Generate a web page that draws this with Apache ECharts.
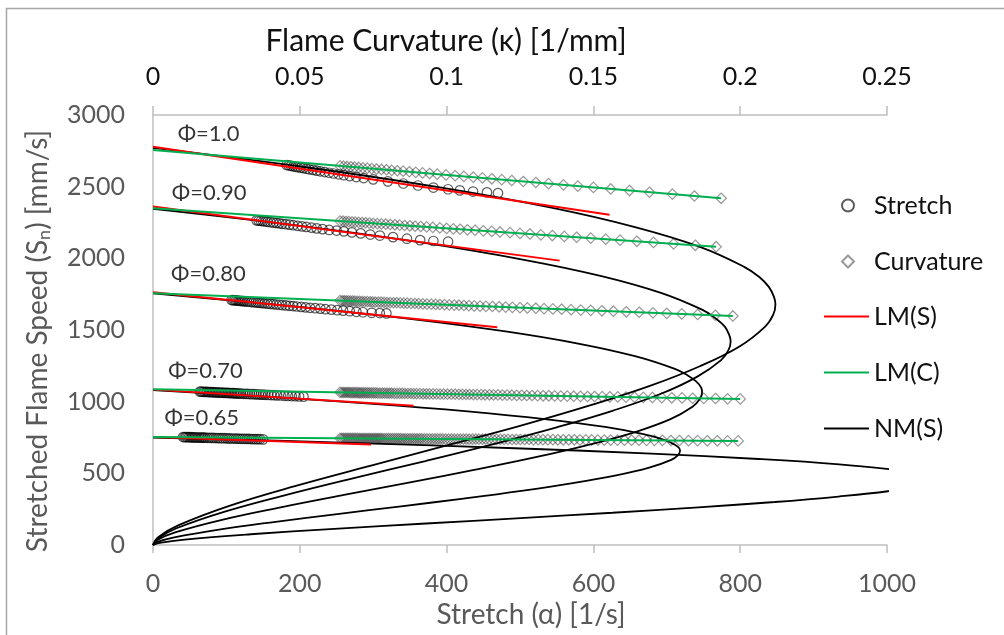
<!DOCTYPE html>
<html>
<head>
<meta charset="utf-8">
<title>Stretched flame speed vs stretch and curvature</title>
<script src="https://cdn.jsdelivr.net/npm/echarts@6/dist/echarts.min.js"></script>
<style>
  html, body { margin: 0; padding: 0; background: #fff; }
  #chart { width: 1004px; height: 635px; }
</style>
</head>
<body>
<div id="chart"></div>
<script>
// axis ranges [min, max, interval]
const stretchAxis = [0, 1000, 200]
const curvatureAxis = [0, 0.25, 0.05]
const speedAxis = [0, 3000, 500]

const phiLabels = ['Φ=1.0', 'Φ=0.90', 'Φ=0.80', 'Φ=0.70', 'Φ=0.65']
// where each label starts, in [stretch, speed]
const labelAnchors = [[33, 2868], [25, 2456], [24, 1891], [20, 1217], [15, 884]]

// measured stretch data (circles), [alpha 1/s, Sn mm/s]
const stretch10 = [[182,2651],[185,2648],[188,2645],[191,2642],[194,2639],[197,2636],[201,2633],[205,2629],[209,2625],[213,2621],[218,2617],[223,2612],[228,2607],[234,2602],[240,2597],[246,2592],[253,2586],[260,2580],[268,2574],[277,2567],[287,2560],[300,2551],[320,2537],[341,2522],[361,2508],[382,2494],[402,2482],[418,2474],[436,2466],[455,2460],[470,2455]]
const stretch09 = [[141,2265],[144,2263],[147,2261],[150,2259],[153,2257],[156,2255],[160,2252],[164,2249],[168,2247],[172,2244],[176,2241],[181,2238],[186,2235],[191,2231],[197,2227],[203,2223],[209,2219],[216,2214],[223,2209],[231,2204],[240,2198],[250,2194],[260,2188],[271,2181],[283,2174],[296,2166],[309,2159],[327,2148],[346,2137],[364,2127],[382,2121],[402,2116]]
const stretch08 = [[107,1709],[109,1708],[111,1707],[113,1706],[115,1705],[117,1704],[119,1703],[121,1702],[123,1701],[125,1700],[128,1698],[131,1697],[134,1695],[137,1694],[140,1692],[143,1691],[146,1689],[149,1688],[152,1686],[156,1684],[160,1682],[164,1680],[168,1678],[172,1676],[176,1674],[181,1672],[186,1669],[191,1667],[196,1664],[202,1661],[208,1658],[214,1655],[221,1652],[228,1649],[235,1645],[243,1642],[251,1638],[259,1635],[268,1631],[277,1627],[286,1624],[298,1620],[309,1618],[318,1616]]
const stretch07 = [[64,1070],[66,1070],[68,1069],[70,1069],[72,1068],[74,1068],[76,1067],[78,1067],[80,1066],[82,1066],[84,1065],[86,1065],[88,1064],[90,1064],[92,1063],[94,1063],[96,1062],[98,1062],[100,1061],[102,1061],[104,1060],[106,1060],[108,1059],[110,1059],[112,1058],[114,1058],[116,1057],[118,1057],[120,1056],[123,1055],[126,1055],[129,1054],[132,1053],[135,1052],[138,1052],[141,1051],[144,1050],[147,1049],[150,1049],[153,1048],[157,1047],[161,1046],[165,1045],[169,1044],[174,1043],[179,1041],[184,1040],[189,1039],[194,1038],[199,1036],[205,1035]]
const stretch065 = [[41,753],[43,753],[45,753],[47,752],[49,752],[51,752],[53,751],[55,751],[57,751],[59,750],[61,750],[63,750],[65,749],[67,749],[69,749],[71,749],[74,748],[77,748],[80,747],[83,747],[86,746],[89,746],[92,745],[95,745],[98,745],[101,744],[104,744],[107,743],[110,743],[113,742],[116,742],[119,741],[122,741],[125,741],[128,740],[131,740],[134,739],[137,739],[140,738],[143,738],[146,738],[150,737]]

// measured curvature data (diamonds), [kappa 1/mm, Sn mm/s]
const curv10 = [[0.0637,2645],[0.0649,2643],[0.0661,2641],[0.0674,2639],[0.0687,2636],[0.0701,2634],[0.0715,2631],[0.0730,2629],[0.0745,2626],[0.0761,2623],[0.0778,2620],[0.0795,2618],[0.0813,2614],[0.0832,2611],[0.0852,2608],[0.0873,2604],[0.0895,2600],[0.0918,2596],[0.0942,2592],[0.0968,2587],[0.0998,2582],[0.1029,2577],[0.1059,2572],[0.1091,2566],[0.1122,2561],[0.1154,2555],[0.1188,2549],[0.1222,2543],[0.1261,2536],[0.1304,2529],[0.1347,2521],[0.1398,2513],[0.1447,2504],[0.1500,2495],[0.1559,2484],[0.1623,2473],[0.1691,2461],[0.1769,2448],[0.1844,2435],[0.1935,2419]]
const curv09 = [[0.0637,2260],[0.0647,2259],[0.0657,2257],[0.0667,2256],[0.0678,2254],[0.0689,2253],[0.0700,2251],[0.0712,2250],[0.0724,2248],[0.0737,2246],[0.0750,2244],[0.0764,2242],[0.0778,2240],[0.0793,2238],[0.0808,2236],[0.0824,2234],[0.0840,2232],[0.0857,2229],[0.0875,2227],[0.0893,2224],[0.0912,2222],[0.0932,2219],[0.0953,2216],[0.0977,2212],[0.1000,2209],[0.1023,2206],[0.1046,2203],[0.1071,2199],[0.1097,2196],[0.1125,2192],[0.1154,2188],[0.1182,2184],[0.1216,2179],[0.1250,2174],[0.1284,2170],[0.1321,2164],[0.1360,2159],[0.1401,2153],[0.1443,2147],[0.1491,2141],[0.1542,2134],[0.1591,2127],[0.1648,2119],[0.1705,2111],[0.1773,2101],[0.1847,2091],[0.1918,2081]]
const curv08 = [[0.0637,1705],[0.0644,1704],[0.0651,1704],[0.0658,1703],[0.0665,1703],[0.0672,1702],[0.0680,1702],[0.0688,1701],[0.0696,1700],[0.0704,1700],[0.0712,1699],[0.0721,1698],[0.0730,1698],[0.0739,1697],[0.0748,1696],[0.0757,1695],[0.0767,1695],[0.0777,1694],[0.0787,1693],[0.0797,1692],[0.0808,1691],[0.0819,1690],[0.0830,1690],[0.0842,1689],[0.0854,1688],[0.0866,1687],[0.0879,1686],[0.0892,1685],[0.0905,1684],[0.0919,1682],[0.0933,1681],[0.0948,1680],[0.0963,1679],[0.0977,1678],[0.0993,1677],[0.1009,1675],[0.1026,1674],[0.1042,1673],[0.1059,1671],[0.1076,1670],[0.1094,1668],[0.1114,1667],[0.1134,1665],[0.1156,1664],[0.1179,1662],[0.1201,1660],[0.1224,1658],[0.1250,1656],[0.1275,1654],[0.1304,1652],[0.1332,1649],[0.1362,1647],[0.1392,1645],[0.1424,1642],[0.1457,1639],[0.1491,1637],[0.1529,1634],[0.1568,1631],[0.1612,1627],[0.1656,1624],[0.1703,1620],[0.1750,1616],[0.1801,1612],[0.1855,1608],[0.1915,1603],[0.1975,1598]]
const curv07 = [[0.0637,1065],[0.0643,1064],[0.0649,1064],[0.0655,1064],[0.0661,1064],[0.0667,1064],[0.0673,1063],[0.0679,1063],[0.0685,1063],[0.0691,1063],[0.0697,1063],[0.0703,1062],[0.0709,1062],[0.0716,1062],[0.0723,1062],[0.0730,1062],[0.0737,1061],[0.0744,1061],[0.0751,1061],[0.0758,1061],[0.0765,1060],[0.0773,1060],[0.0781,1060],[0.0789,1060],[0.0797,1059],[0.0805,1059],[0.0813,1059],[0.0822,1058],[0.0831,1058],[0.0840,1058],[0.0849,1058],[0.0858,1057],[0.0868,1057],[0.0878,1057],[0.0888,1056],[0.0898,1056],[0.0909,1056],[0.0920,1055],[0.0931,1055],[0.0942,1054],[0.0954,1054],[0.0966,1054],[0.0978,1053],[0.0990,1053],[0.1003,1052],[0.1016,1052],[0.1029,1052],[0.1042,1051],[0.1054,1051],[0.1066,1050],[0.1078,1050],[0.1091,1049],[0.1104,1049],[0.1118,1049],[0.1131,1048],[0.1146,1048],[0.1160,1047],[0.1175,1047],[0.1190,1046],[0.1206,1046],[0.1222,1045],[0.1239,1044],[0.1256,1044],[0.1273,1043],[0.1291,1043],[0.1310,1042],[0.1329,1041],[0.1348,1041],[0.1368,1040],[0.1389,1039],[0.1411,1039],[0.1433,1038],[0.1456,1037],[0.1480,1036],[0.1504,1036],[0.1530,1035],[0.1556,1034],[0.1583,1033],[0.1611,1032],[0.1640,1031],[0.1670,1030],[0.1701,1029],[0.1733,1028],[0.1767,1027],[0.1802,1026],[0.1838,1024],[0.1876,1023],[0.1916,1022],[0.1957,1020],[0.2000,1019]]
const curv065 = [[0.0637,744],[0.0643,744],[0.0649,744],[0.0655,744],[0.0661,744],[0.0667,744],[0.0673,744],[0.0679,744],[0.0685,744],[0.0691,744],[0.0697,744],[0.0703,743],[0.0709,743],[0.0715,743],[0.0721,743],[0.0727,743],[0.0733,743],[0.0739,743],[0.0745,743],[0.0751,743],[0.0757,743],[0.0763,743],[0.0769,743],[0.0775,743],[0.0781,742],[0.0788,742],[0.0795,742],[0.0802,742],[0.0809,742],[0.0816,742],[0.0823,742],[0.0830,742],[0.0837,742],[0.0844,742],[0.0851,741],[0.0859,741],[0.0867,741],[0.0875,741],[0.0883,741],[0.0891,741],[0.0899,741],[0.0907,741],[0.0915,741],[0.0924,740],[0.0933,740],[0.0942,740],[0.0951,740],[0.0960,740],[0.0969,740],[0.0978,740],[0.0987,740],[0.0997,739],[0.1007,739],[0.1017,739],[0.1027,739],[0.1037,739],[0.1047,739],[0.1057,739],[0.1067,739],[0.1077,738],[0.1088,738],[0.1099,738],[0.1110,738],[0.1122,738],[0.1133,738],[0.1145,737],[0.1158,737],[0.1170,737],[0.1183,737],[0.1196,737],[0.1209,737],[0.1223,736],[0.1237,736],[0.1251,736],[0.1266,736],[0.1281,736],[0.1296,735],[0.1312,735],[0.1328,735],[0.1345,735],[0.1362,735],[0.1379,734],[0.1397,734],[0.1416,734],[0.1435,734],[0.1454,733],[0.1474,733],[0.1494,733],[0.1515,732],[0.1537,732],[0.1559,732],[0.1582,732],[0.1606,731],[0.1630,731],[0.1655,731],[0.1681,730],[0.1708,730],[0.1735,730],[0.1764,729],[0.1793,729],[0.1824,728],[0.1855,728],[0.1888,727],[0.1922,727],[0.1957,726],[0.1993,726]]

// linear model fits: LM(S) against stretch, LM(C) against curvature
const lmS10 = [[0,2779],[622,2304]]
const lmS09 = [[0,2361],[554,1984]]
const lmS08 = [[0,1763],[469,1519]]
const lmS07 = [[0,1084],[355,972]]
const lmS065 = [[0,753],[297,702]]
const lmC10 = [[0,2756],[0.1935,2419]]
const lmC09 = [[0,2349],[0.1918,2081]]
const lmC08 = [[0,1756],[0.1975,1598]]
const lmC07 = [[0,1086],[0.2000,1019]]
const lmC065 = [[0,753],[0.1993,726]]

// nonlinear model NM(S), upper branch then back down to the origin
const nm10 = [[0,2770],[213,2632],[393,2493],[541,2355],[658,2216],[746,2078],[806,1939],[826,1870],[839,1801],[846,1731],[848,1680],[845,1607],[834,1524],[799,1385],[745,1247],[676,1108],[593,970],[500,831],[399,693],[297,554],[197,416],[106,277],[35,139],[7,55],[0,0]]
const nm09 = [[0,2345],[198,2228],[365,2111],[502,1993],[611,1876],[692,1759],[748,1642],[766,1583],[779,1524],[785,1466],[787,1422],[784,1360],[774,1290],[741,1173],[692,1055],[627,938],[550,821],[464,704],[371,586],[275,469],[183,352],[99,235],[32,117],[7,47],[0,0]]
const nm08 = [[0,1755],[188,1667],[347,1580],[478,1492],[581,1404],[658,1316],[711,1229],[728,1185],[740,1141],[747,1097],[748,1064],[745,1018],[735,965],[705,878],[658,790],[596,702],[523,614],[441,527],[352,439],[262,351],[174,263],[94,176],[30,88],[6,35],[0,0]]
const nm07 = [[0,1080],[181,1026],[333,972],[458,918],[557,864],[632,810],[682,756],[699,729],[710,702],[717,675],[718,655],[715,626],[706,594],[676,540],[631,486],[572,432],[502,378],[423,324],[338,270],[251,216],[167,162],[90,108],[29,54],[6,22],[0,0]]
const nm065 = [[0,750],[268,713],[493,675],[679,638],[825,600],[935,563],[1010,525],[1035,506],[1052,488],[1061,469],[1063,455],[1059,435],[1045,413],[1001,375],[934,338],[847,300],[743,263],[626,225],[501,188],[372,150],[247,113],[133,75],[43,38],[9,15],[0,0]]

const FONT = 'Lato, "Noto Sans", sans-serif'

const chart = echarts.init(document.getElementById('chart'), null, { renderer: 'canvas' })

const series = []

;[stretch10, stretch09, stretch08, stretch07, stretch065].forEach(d => {
  series.push({
    name: 'Stretch',
    type: 'scatter',
    xAxisIndex: 0,
    data: d,
    symbol: 'circle',
    symbolSize: 9.5,
    itemStyle: { color: 'rgba(0,0,0,0)', borderColor: 'rgba(0,0,0,0.8)', borderWidth: 1.2 },
    z: 2
  })
})

;[curv10, curv09, curv08, curv07, curv065].forEach(d => {
  series.push({
    name: 'Curvature',
    type: 'scatter',
    xAxisIndex: 1,
    data: d,
    symbol: 'diamond',
    symbolSize: 10.5,
    itemStyle: { color: 'rgba(0,0,0,0)', borderColor: 'rgba(0,0,0,0.5)', borderWidth: 1.2 },
    z: 2
  })
})

;[nm10, nm09, nm08, nm07, nm065].forEach(d => {
  series.push({
    name: 'NM(S)',
    type: 'line',
    xAxisIndex: 0,
    data: d,
    smooth: 0.4,
    symbol: 'none',
    clip: true,
    lineStyle: { color: '#000', width: 1.8 },
    itemStyle: { color: '#000' },
    z: 3
  })
})

;[lmS10, lmS09, lmS08, lmS07, lmS065].forEach(d => {
  series.push({
    name: 'LM(S)',
    type: 'line',
    xAxisIndex: 0,
    data: d,
    symbol: 'none',
    lineStyle: { color: '#ff0000', width: 2 },
    itemStyle: { color: '#ff0000' },
    z: 4
  })
})

;[lmC10, lmC09, lmC08, lmC07, lmC065].forEach(d => {
  series.push({
    name: 'LM(C)',
    type: 'line',
    xAxisIndex: 1,
    data: d,
    symbol: 'none',
    lineStyle: { color: '#00b050', width: 2 },
    itemStyle: { color: '#00b050' },
    z: 5
  })
})

// the equivalence ratio labels
series.push({
  name: 'phi',
  type: 'scatter',
  xAxisIndex: 0,
  symbolSize: 1,
  itemStyle: { color: 'rgba(0,0,0,0)' },
  silent: true,
  data: labelAnchors.map((p, i) => ({ value: p, label: { formatter: phiLabels[i] } })),
  label: {
    show: true,
    position: 'right',
    distance: 0,
    fontFamily: FONT,
    fontSize: 22,
    color: '#000'
  },
  z: 6
})

const plainNumber = v => String(v)
const legendText = { fontFamily: FONT, fontSize: 25, color: '#111' }

chart.setOption({
  animation: false,
  backgroundColor: '#fff',
  graphic: [{
    type: 'rect',
    silent: true,
    shape: { x: 6.5, y: 8.5, width: 1020, height: 650 },
    style: { fill: 'none', stroke: '#a6a6a6', lineWidth: 1.5 }
  }],
  grid: {
    left: 153,
    right: 117,
    top: 115,
    bottom: 90,
    outerBoundsMode: 'none'
  },
  legend: [{
    // marker entries
    orient: 'vertical',
    left: 836,
    top: 188,
    itemWidth: 12,
    itemHeight: 12,
    itemGap: 31,
    selectedMode: false,
    data: ['Stretch', 'Curvature'],
    textStyle: Object.assign({ padding: [0, 0, 0, 15] }, legendText)
  }, {
    // line entries
    orient: 'vertical',
    left: 818,
    top: 299,
    itemWidth: 45,
    itemHeight: 12,
    itemGap: 31,
    selectedMode: false,
    data: [
      { name: 'LM(S)', itemStyle: { opacity: 0 } },
      { name: 'LM(C)', itemStyle: { opacity: 0 } },
      { name: 'NM(S)', itemStyle: { opacity: 0 } }
    ],
    textStyle: legendText
  }],
  xAxis: [{
    type: 'value',
    position: 'bottom',
    min: stretchAxis[0],
    max: stretchAxis[1],
    interval: stretchAxis[2],
    name: 'Stretch (α) [1/s]',
    nameLocation: 'middle',
    nameGap: 52,
    nameTextStyle: { fontFamily: FONT, fontSize: 28, color: '#595959', padding: [0, 0, 0, 22] },
    axisLine: { show: true, lineStyle: { color: '#bfbfbf', width: 1.5 } },
    axisTick: { show: true, length: 8, lineStyle: { color: '#bfbfbf', width: 1.5 } },
    axisLabel: { margin: 26, fontFamily: FONT, fontSize: 25, color: '#595959', formatter: plainNumber },
    splitLine: { show: false }
  }, {
    type: 'value',
    position: 'top',
    min: curvatureAxis[0],
    max: curvatureAxis[1],
    interval: curvatureAxis[2],
    name: 'Flame Curvature (κ) [1/mm]',
    nameLocation: 'middle',
    nameGap: 59,
    nameTextStyle: { fontFamily: FONT, fontSize: 30, color: '#111', padding: [0, 148, 0, 0] },
    axisLine: { show: true, lineStyle: { color: '#bfbfbf', width: 1.5 } },
    axisTick: { show: true, length: 9, lineStyle: { color: '#bfbfbf', width: 1.5 } },
    axisLabel: { margin: 26, fontFamily: FONT, fontSize: 25, color: '#111', formatter: plainNumber },
    splitLine: { show: false }
  }],
  yAxis: {
    type: 'value',
    min: speedAxis[0],
    max: speedAxis[1],
    interval: speedAxis[2],
    name: 'Stretched Flame Speed (S{sub|n}) [mm/s]',
    nameLocation: 'middle',
    nameGap: 100,
    nameTextStyle: {
      fontFamily: FONT,
      fontSize: 28,
      color: '#595959',
      padding: [0, 22, 0, 0],
      rich: {
        sub: { fontFamily: FONT, fontSize: 18, color: '#595959', verticalAlign: 'bottom', padding: [12, 0, 0, 0] }
      }
    },
    axisLine: { show: true, lineStyle: { color: '#bfbfbf', width: 1.5 } },
    axisTick: { show: false },
    axisLabel: { margin: 28, fontFamily: FONT, fontSize: 25, color: '#595959', formatter: plainNumber },
    splitLine: { show: false }
  },
  series: series
})
</script>
</body>
</html>
